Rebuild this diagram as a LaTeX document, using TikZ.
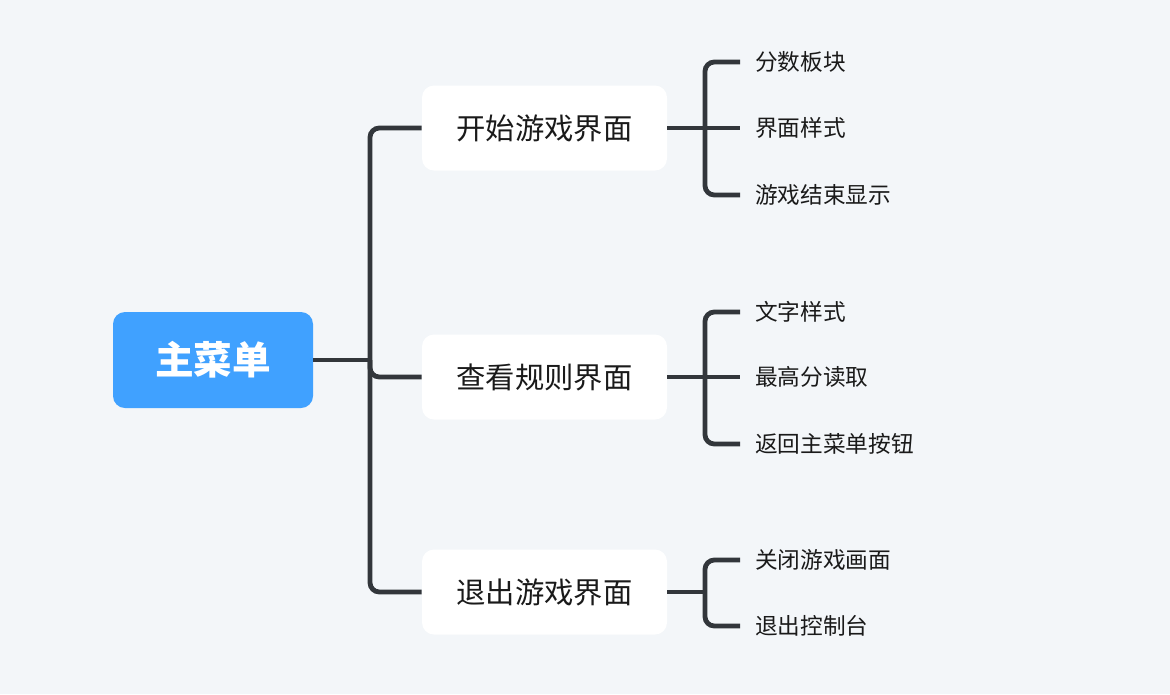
\documentclass[tikz,border=0pt]{standalone}
\usepackage{fontspec}
\setmainfont{Noto Sans CJK SC}
\definecolor{bg}{RGB}{243,246,249}
\definecolor{rootblue}{RGB}{64,161,255}
\definecolor{linec}{RGB}{50,54,59}
\definecolor{txt}{RGB}{26,26,26}
\tikzset{
  rootbox/.style={fill=rootblue, rounded corners=9pt, minimum width=150pt, minimum height=72pt, text=white, font=\fontsize{29}{34}\selectfont\bfseries, inner sep=0pt},
  midbox/.style={fill=white, rounded corners=9pt, minimum width=183.75pt, minimum height=63.75pt, text=txt, font=\fontsize{22}{26}\selectfont, inner sep=0pt},
  leaf/.style={anchor=west, text=txt, font=\fontsize{17}{20}\selectfont, inner xsep=11.25pt, inner ysep=0pt},
  conn/.style={draw=linec, line width=3.6pt, rounded corners=7pt}
}
\begin{document}
\begin{tikzpicture}[x=0.75pt,y=-0.75pt]
\fill[bg] (0,0) rectangle (1170,694);
\useasboundingbox (0,0) rectangle (1170,694);

\node[rootbox] (root) at (213,360) {主菜单};
\node[midbox] (a) at (544.5,128) {开始游戏界面};
\node[midbox] (b) at (544.5,377) {查看规则界面};
\node[midbox] (c) at (544.5,592) {退出游戏界面};

\node[leaf] (a1) at (740,62) {分数板块};
\node[leaf] (a2) at (740,128) {界面样式};
\node[leaf] (a3) at (740,195) {游戏结束显示};

\node[leaf] (b1) at (740,312) {文字样式};
\node[leaf] (b2) at (740,377) {最高分读取};
\node[leaf] (b3) at (740,444) {返回主菜单按钮};

\node[leaf] (c1) at (740,560) {关闭游戏画面};
\node[leaf] (c2) at (740,626) {退出控制台};

\coordinate (trunk) at (370,360);
\coordinate (br) at (705,0);

% main trunk
\draw[conn] (root.east) -- (trunk);
\draw[conn] (a.west) -| (trunk) |- (c.west);
\draw[conn] (trunk) |- (b.west);

% group a
\draw[conn] (a.east) -- (a2.west);
\draw[conn] (a1.west) -| (br |- a2.west) |- (a3.west);

% group b
\draw[conn] (b.east) -- (b2.west);
\draw[conn] (b1.west) -| (br |- b2.west) |- (b3.west);

% group c
\draw[conn] (c.east) -- (c.east -| br);
\draw[conn] (c1.west) -| (br |- c.east) |- (c2.west);
\end{tikzpicture}
\end{document}
